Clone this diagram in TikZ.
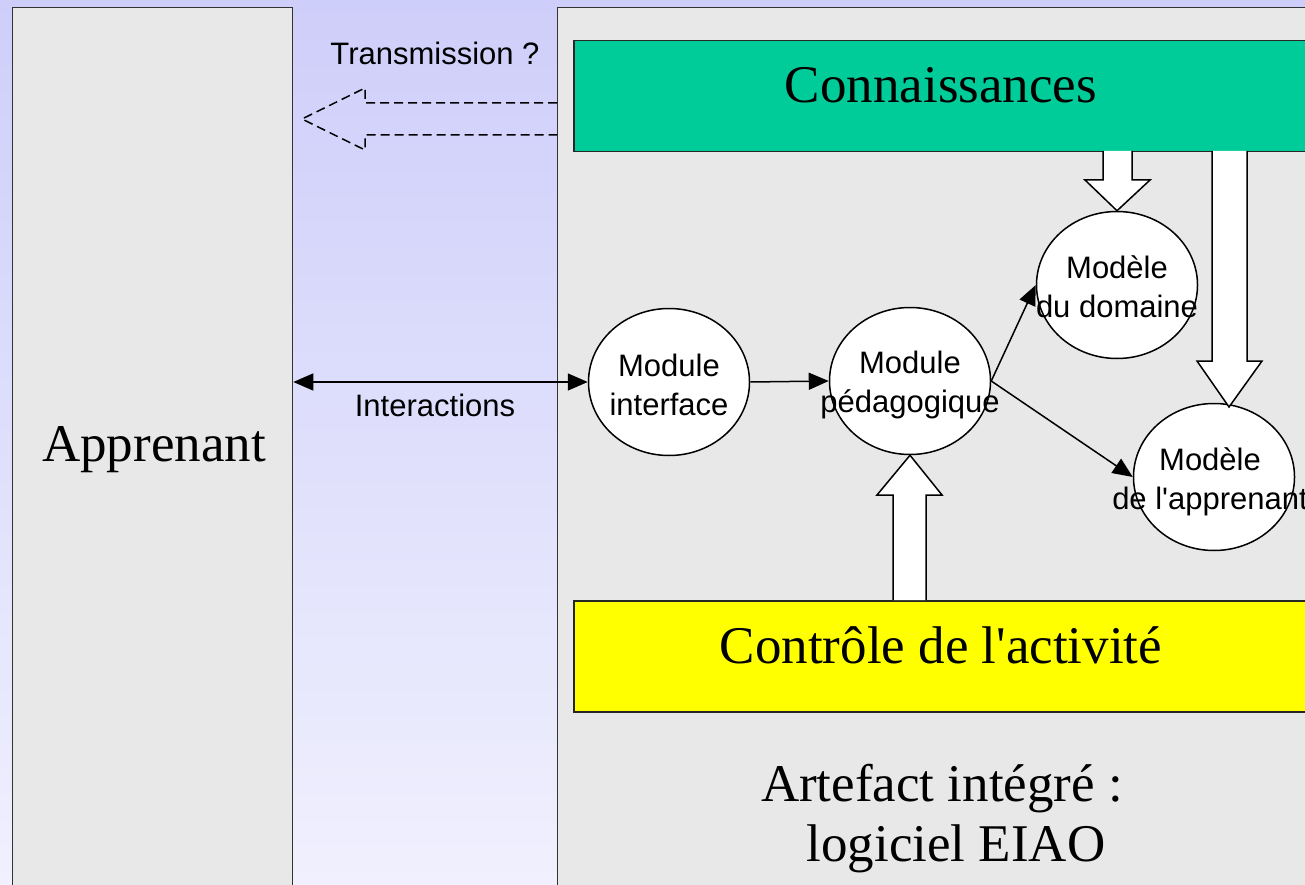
\documentclass[tikz,border=0pt]{standalone}
\usepackage{fontspec}
\setmainfont{Liberation Serif}
\setsansfont{Liberation Sans}
\usetikzlibrary{shapes.geometric,arrows.meta}
\definecolor{bgtop}{RGB}{206,206,250}
\definecolor{bgbot}{RGB}{240,240,254}
\definecolor{panelgray}{RGB}{232,232,232}
\definecolor{knowgreen}{RGB}{0,204,153}
\definecolor{ctrlyellow}{RGB}{255,255,0}
\tikzset{
  panel/.style={draw=black!80, line width=1.3pt, fill=panelgray, anchor=north west, inner sep=0pt},
  band/.style={draw=black!85, line width=1.5pt, anchor=north west, inner sep=0pt},
  bigtext/.style={font=\fontsize{53}{60}\selectfont, inner sep=0pt},
  lbl/.style={font=\sffamily\fontsize{31}{39}\selectfont, inner sep=0pt, align=center},
  bubble/.style={ellipse, draw=black, line width=1.5pt, fill=white, minimum width=161pt, minimum height=147pt, inner sep=0pt},
  link/.style={line width=1.5pt, -{Triangle[length=20pt,width=17pt]}},
  hollow/.style={draw=black, line width=1.5pt, fill=white},
}
\begin{document}
\begin{tikzpicture}[x=1pt,y=-1pt]
\useasboundingbox (0,0) rectangle (1305,885);
\shade[top color=bgtop, bottom color=bgbot] (0,0) rectangle (1305,885);

% learner and software panels
\node[panel, minimum width=280pt, minimum height=900pt] (learner) at (12,7) {};
\node[bigtext] at (154,450) {Apprenant};
\node[panel, minimum width=760pt, minimum height=900pt] (soft) at (557,7) {};

% knowledge and activity-control bands
\node[band, fill=knowgreen, minimum width=740pt, minimum height=111pt] (know) at (573,40) {};
\node[bigtext] at (941,85) {Connaissances};
\node[band, fill=ctrlyellow, minimum width=740pt, minimum height=111pt] (ctrl) at (573,600) {};
\node[bigtext] at (941,645) {Contrôle de l\textquotesingle activité};

\node[bigtext, align=center] at (942,819) {Artefact intégré :\\\hspace*{28pt}logiciel EIAO};

% modules
\node[bubble] (iface) at (669,382) {};
\node[lbl] at (669,385) {Module\\interface};
\node[bubble] (peda) at (910,381) {};
\node[lbl] at (910,385) {Module\\pédagogique};
\node[bubble] (dom) at (1117,285) {};
\node[lbl] at (1117,287) {Modèle\\du domaine};
\node[bubble] (app) at (1214,477) {};
\node[lbl] at (1210,482) {Modèle\\de l\textquotesingle apprenant};

% block arrows
\path[hollow] (1103,151) -- (1103,180) -- (1085,180) -- (dom.north) -- (1150,180) -- (1132,180) -- (1132,151);
\path[hollow] (1212,151) -- (1212,361) -- (1197,361) -- (1229,407) -- (1262,361) -- (1247,361) -- (1247,151);
\path[hollow] (893,600) -- (893,495) -- (877,495) -- (peda.south) -- (942,495) -- (926,495) -- (926,600);

% transmission (dashed hollow arrow)
\draw[line width=1.5pt, dash pattern=on 9pt off 5pt] (557,103) -- (365,103) -- (365,88) -- (302,119) -- (365,150) -- (365,135) -- (557,135);
\node[lbl] at (435,53) {Transmission ?};

% interactions
\coordinate (lr) at (learner.east |- iface.west);
\draw[line width=1.5pt, {Triangle[length=20pt,width=17pt]}-{Triangle[length=20pt,width=17pt]}] (lr) -- (iface.west);
\node[lbl] at (435,405) {Interactions};

% module links
\draw[link] (iface.east) -- (peda.west);
\draw[link] (peda.east) -- (dom.west);
\draw[link] (peda.east) -- (app.west);
\end{tikzpicture}
\end{document}
